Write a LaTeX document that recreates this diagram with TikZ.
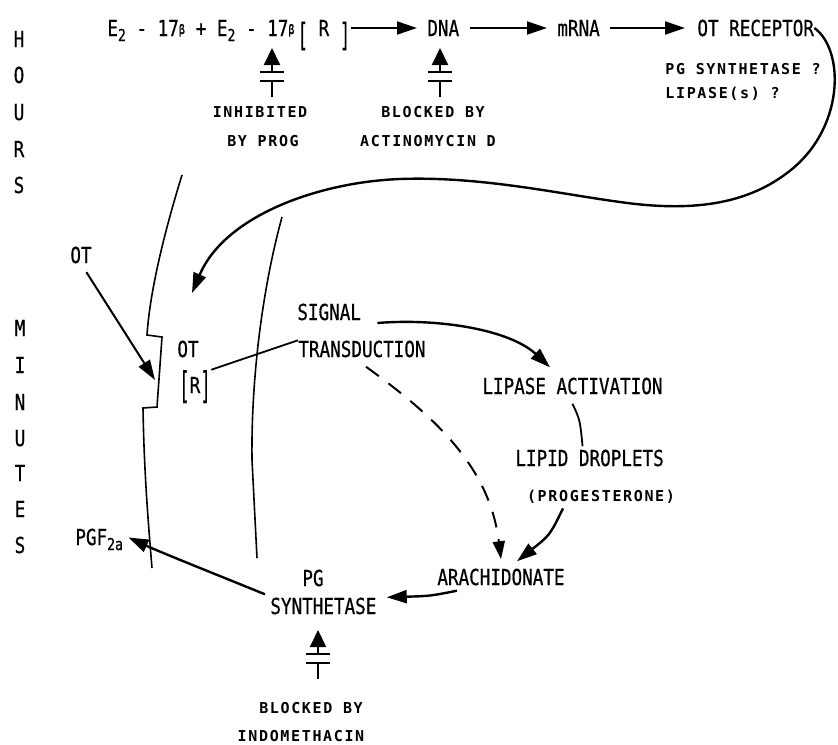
\documentclass[tikz,border=0pt]{standalone}
\usepackage{fontspec}
\usetikzlibrary{arrows.meta,calc}
\newfontfamily\mainf[FakeStretch=0.8,FakeBold=0.6]{DejaVu Sans Mono}
\newfontfamily\smallf[LetterSpace=11]{DejaVu Sans Mono Bold}
\newcommand{\lowr}[1]{\raisebox{-2.5pt}{\fontsize{8.2}{8}\selectfont #1}}
\newcommand{\bet}{\raisebox{1pt}{\fontsize{6.5}{6}\selectfont β}}
\newcommand{\brk}[3]{\raisebox{#3}{\scalebox{1}[#2]{#1}}}
\begin{document}
\begin{tikzpicture}[x=0.5pt,y=-0.5pt,
  maintxt/.style={inner sep=0pt, font=\mainf\fontsize{11}{13}\selectfont},
  rowtxt/.style={maintxt, anchor=base west, text height=8pt, text depth=0pt},
  smalltxt/.style={inner sep=0pt, font=\smallf\fontsize{7.5}{9}\selectfont},
  arr/.style={line width=1pt, -{Triangle[length=10pt,width=6.5pt]}},
  curv/.style={line width=1.2pt, -{Triangle[length=10pt,width=6.5pt]}},
  dsh/.style={line width=1pt, dash pattern=on 8pt off 6pt, -{Triangle[length=9pt,width=6pt]}},
  memb/.style={line width=0.8pt},
  thinln/.style={line width=0.9pt},
  inhib/.pic={
    \draw[line width=1pt,-{Triangle[length=8.5pt,width=8pt]}] (0,17) -- (0,0);
    \draw[line width=1pt] (0,16) -- (0,24) (-12,24) -- (12,24) (-12,33) -- (12,33) (0,33) -- (0,49);
  }
]
\fill[white] (0,0) rectangle (838,744);
\useasboundingbox (0,0) rectangle (838,744);

% side labels
\foreach \l/\y [count=\i] in {H/47,O/83,U/120,R/157,S/193}
  \node[maintxt, anchor=base] (hr\i) at (19,\y) {\l};
\foreach \l/\y [count=\i] in {M/336,I/373,N/410,U/446,T/481,E/517,S/553}
  \node[maintxt, anchor=base] (mn\i) at (20,\y) {\l};

% top row
\node[rowtxt] (e2) at (107,36) {E\lowr{2} - 17\bet{} + E\lowr{2} - 17\bet};
\node[rowtxt] (rr) at (297,36) {\brk{[}{1.45}{-5pt} R \brk{]}{1.45}{-5pt}};
\node[rowtxt] (dna) at (427,36) {DNA};
\node[rowtxt] (mrna) at (557,36) {mRNA};
\node[rowtxt] (otr) at (697,36) {OT RECEPTOR};
\draw[arr, shorten >=5pt] (rr.east) -- (dna.west);
\draw[arr, shorten <=5pt, shorten >=5pt] (dna.east) -- (mrna.west);
\draw[arr, shorten <=5pt, shorten >=6pt] (mrna.east) -- (otr.west);

\pic at (272,48) {inhib};
\pic at (440,48) {inhib};
\node[smalltxt, anchor=base] (inh1) at (260,117) {INHIBITED};
\node[smalltxt, anchor=base] (inh2) at (263,146) {BY PROG};
\node[smalltxt, anchor=base] (blk1) at (433,117) {BLOCKED BY};
\node[smalltxt, anchor=base] (blk2) at (428,146) {ACTINOMYCIN D};
\node[smalltxt, anchor=base west] (pgq) at (665,74) {PG SYNTHETASE ?};
\node[smalltxt, anchor=base west] (lpq) at (665,98) {LIPASE(s) ?};

% membranes
\draw[memb] (182,175) .. controls (165,230) and (150,290) .. (147,335) -- (162,337) -- (157,407) -- (143,408) .. controls (144,470) and (148,520) .. (152,568);
\draw[memb] (282,217) .. controls (262,290) and (251,380) .. (252,460) -- (257,558);

% big curve
\coordinate (ottip) at (192,293);
\draw[curv] (otr.east) .. controls (845,50) and (845,130) .. (787,173)
  .. controls (745,205) and (690,212) .. (620,202)
  .. controls (560,194) and (480,176) .. (400,179)
  .. controls (320,182) and (225,215) .. (ottip);

% middle
\node[maintxt, anchor=base] (ot1) at (81,263) {OT};
\coordinate (otmem) at (155,380);
\draw[arr, shorten <=5pt] (ot1.south) -- (otmem);
\node[maintxt, anchor=base] (ot2) at (188,357) {OT};
\node[maintxt, anchor=base] (rri) at (195,393) {\brk{[}{1.68}{-2.6pt}R\brk{]}{1.68}{-2.6pt}};
\node[maintxt, anchor=base west] (sg1) at (297,320) {SIGNAL};
\node[maintxt, anchor=base west] (sg2) at (298,357) {TRANSDUCTION};
\draw[thinln] (rri.north east) -- (sg2.north west);

\node[maintxt, anchor=base west] (lipa) at (482,394) {LIPASE ACTIVATION};
\node[maintxt, anchor=base west] (lipid) at (515,466) {LIPID DROPLETS};
\node[smalltxt, anchor=base] (prog) at (601,501) {(PROGESTERONE)};
\node[maintxt, anchor=base west] (arach) at (437,585) {ARACHIDONATE};
\node[maintxt, anchor=base] (pg1) at (313,586) {PG};
\node[maintxt, anchor=base west] (pg2) at (270,614) {SYNTHETASE};
\node[maintxt, anchor=base west] (pgf) at (75,545) {PGF\lowr{2a}};

\draw[curv] ($(sg1.east)+(16,11)$) .. controls (440,318) and (510,330) .. ($(lipa.north west)+(68,-10)$);
\draw[thinln] ($(lipa.south)+(0,9)$) .. controls (580,420) .. ($(lipid.north)+(-7,-3)$);
\draw[curv] ($(prog.south)+(-38,5)$) .. controls (550,535) .. ($(arach.north)+(16,-7)$);
\draw[dsh] ($(sg2.south)+(4,9)$) .. controls (440,420) and (490,470) .. ($(arach.north)+(0,-9)$);
\draw[curv] ($(arach.south west)+(20,5)$) .. controls (430,596) .. ($(pg2.north east)+(10,0)$);
\draw[curv] ($(pg2.north west)+(-5,-3)$) .. controls (210,572) and (160,552) .. ($(pgf.east)+(5,-2)$);

\pic at (318,630) {inhib};
\node[smalltxt, anchor=base] (blk3) at (311,713) {BLOCKED BY};
\node[smalltxt, anchor=base] (blk4) at (301,741) {INDOMETHACIN};
\end{tikzpicture}
\end{document}
